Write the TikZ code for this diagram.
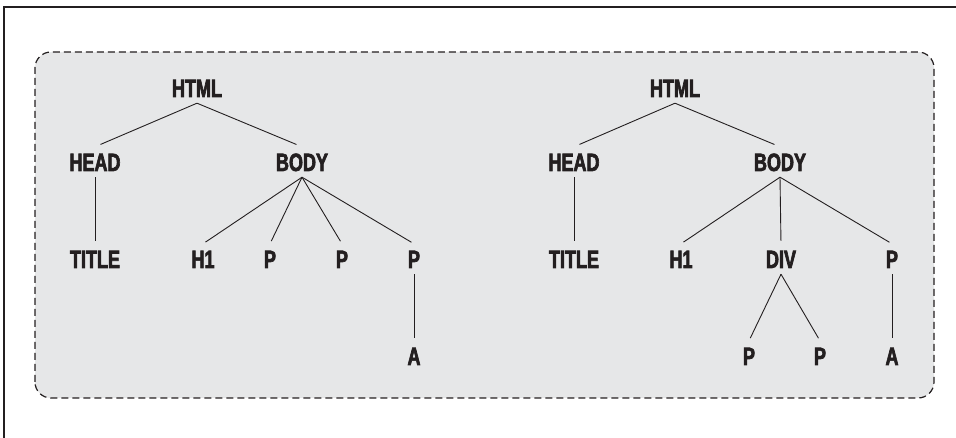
\documentclass[tikz,border=0pt]{standalone}
\usepackage{fontspec}
\newfontfamily\tagfont{Liberation Sans Bold}[FakeStretch=0.72,FakeBold=2.6]
\usepackage{tikz}
\usetikzlibrary{positioning}

\definecolor{ink}{HTML}{231F20}
\definecolor{panel}{HTML}{E6E7E8}

\begin{document}
\begin{tikzpicture}[x=1pt,y=1pt,
  tag/.style={font=\fontsize{25}{30}\tagfont,text=ink,
              text height=18pt,text depth=0pt,inner xsep=2pt,inner ysep=6pt},
  link/.style={draw=ink,line width=0.9pt,shorten >=3pt}]
\useasboundingbox (0,0) rectangle (956,438);

% frame and shaded panel
\draw[ink,line width=1.5pt] (4,0) -- (4,431) -- (956,431);
\draw[ink,line width=1.2pt,dash pattern=on 7pt off 4pt,rounded corners=16pt,fill=panel]
  (35,40) rectangle (934,386);

% first document tree
\node at (197,350) [tag] (htmlL)  {HTML};
\node at ( 95,276) [tag] (headL)  {HEAD};
\node at (302,276) [tag] (bodyL)  {BODY};
\node at ( 95,179) [tag] (titleL) {TITLE};
\node at (203,179) [tag] (hL)     {H1};
\node at (270,179) [tag] (pLa)    {P};
\node at (342,179) [tag] (pLb)    {P};
\node at (414,179) [tag] (pLc)    {P};
\node at (414, 82) [tag] (aL)     {A};

\draw[link,shorten >=6pt] (htmlL.south) -- (headL.north);
\draw[link,shorten >=6pt] (htmlL.south) -- (bodyL.north);
\draw[link] (headL.south) -- (titleL.north);
\draw[link] (bodyL.south) -- (hL.north);
\draw[link] (bodyL.south) -- (pLa.north);
\draw[link] (bodyL.south) -- (pLb.north);
\draw[link] (bodyL.south) -- (pLc.north);
\draw[link] (pLc.south) -- (aL.north);

% second document tree
\node at (675,350) [tag] (htmlR)  {HTML};
\node at (574,276) [tag] (headR)  {HEAD};
\node at (780,276) [tag] (bodyR)  {BODY};
\node at (574,179) [tag] (titleR) {TITLE};
\node at (681,179) [tag] (hR)     {H1};
\node at (781,179) [tag] (divR)   {DIV};
\node at (892,179) [tag] (pRc)    {P};
\node at (749, 82) [tag] (pRa)    {P};
\node at (820, 82) [tag] (pRb)    {P};
\node at (892, 82) [tag] (aR)     {A};

\draw[link,shorten >=6pt] (htmlR.south) -- (headR.north);
\draw[link,shorten >=6pt] (htmlR.south) -- (bodyR.north);
\draw[link] (headR.south) -- (titleR.north);
\draw[link] (bodyR.south) -- (hR.north);
\draw[link] (bodyR.south) -- (divR.north);
\draw[link] (bodyR.south) -- (pRc.north);
\draw[link] (divR.south) -- (pRa.north);
\draw[link] (divR.south) -- (pRb.north);
\draw[link] (pRc.south) -- (aR.north);
\end{tikzpicture}
\end{document}
